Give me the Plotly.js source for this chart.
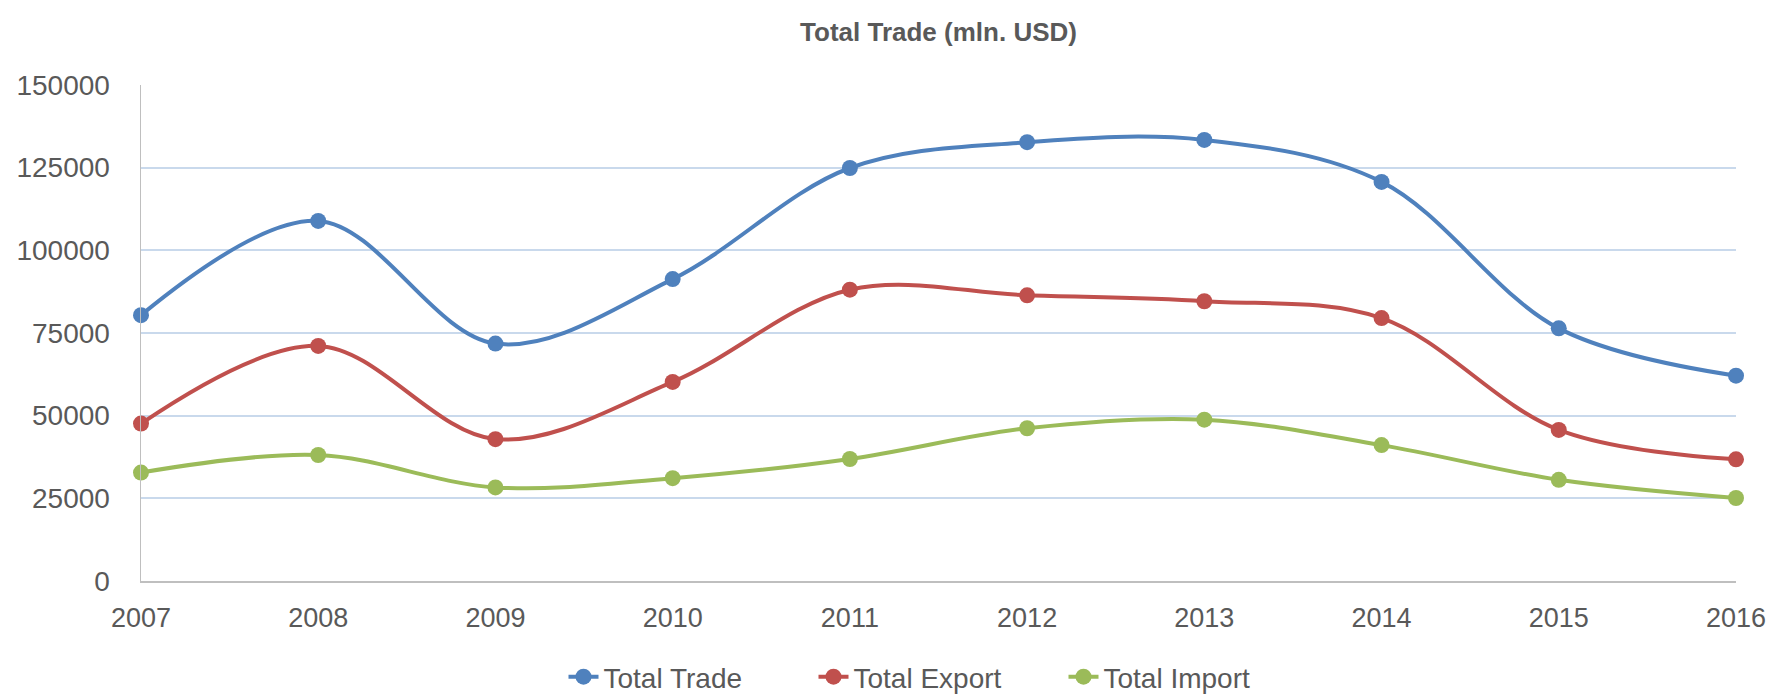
<!DOCTYPE html>
<html>
<head>
<meta charset="utf-8">
<script src="https://cdn.plot.ly/plotly-3.0.1.min.js"></script>
<style>html,body{margin:0;padding:0;background:#fff;}#chart{width:1771px;height:695px;}</style>
</head>
<body>
<div id="chart"></div>
<script>
const years = [2007, 2008, 2009, 2010, 2011, 2012, 2013, 2014, 2015, 2016];
const totalTrade  = [80400, 108900, 71800, 91300, 124900, 132700, 133400, 120700, 76400, 62100];
const totalExport = [47600, 71100, 42900, 60200, 88100, 86400, 84600, 79500, 45700, 36800];
const totalImport = [32800, 38100, 28300, 31100, 36900, 46200, 48800, 41100, 30600, 25100];
const seriesNames = ['Total Trade', 'Total Export', 'Total Import'];
const seriesColors = ['#4F81BD', '#C0504D', '#9BBB59'];
const yTicks = [0, 25000, 50000, 75000, 100000, 125000, 150000];

const font = 'Liberation Sans, Arial, sans-serif';
const txt = '#595959';
const allSeries = [totalTrade, totalExport, totalImport];
const traces = allSeries.map((vals, i) => ({
  x: years, y: vals, name: seriesNames[i], type: 'scatter', mode: 'lines+markers',
  line: {color: seriesColors[i], width: 4, shape: 'spline', smoothing: 1},
  marker: {color: seriesColors[i], size: 16},
  cliponaxis: false
}));

const layout = {
  width: 1771, height: 695,
  margin: {l: 141, r: 35, t: 85, b: 114},
  paper_bgcolor: '#fff', plot_bgcolor: '#fff',
  font: {family: font, color: txt, size: 28},
  title: {text: '<b>Total Trade (mln. USD)</b>', x: 0.5, xanchor: 'center', xref: 'paper', y: 0.954, yanchor: 'middle', yref: 'container',
          font: {family: font, size: 26, color: txt}},
  xaxis: {
    range: [2007, 2016], tickvals: years, ticktext: years.map(String),
    showgrid: false, zeroline: false, showline: true, linecolor: '#BFBFBF', linewidth: 1.5,
    ticks: '', ticklabelstandoff: 12, tickfont: {size: 27, color: txt}, fixedrange: true
  },
  yaxis: {
    range: [0, 150000], tickvals: yTicks, ticktext: yTicks.map(String),
    showgrid: true, gridcolor: '#C9D9EC', gridwidth: 2, zeroline: false,
    showline: true, linecolor: '#BFBFBF', linewidth: 1.5, mirror: false,
    ticks: '', ticklabelstandoff: 24, tickfont: {size: 28, color: txt}, fixedrange: true
  },
  legend: {orientation: 'h', x: 0.5, xanchor: 'center', xref: 'paper', y: 0.026, yanchor: 'middle', yref: 'container',
           font: {size: 28, color: txt}, entrywidth: 205, entrywidthmode: 'pixels', traceorder: 'normal'},
  showlegend: true
};

Plotly.newPlot('chart', traces, layout, {displayModeBar: false, staticPlot: true});
</script>
</body>
</html>
